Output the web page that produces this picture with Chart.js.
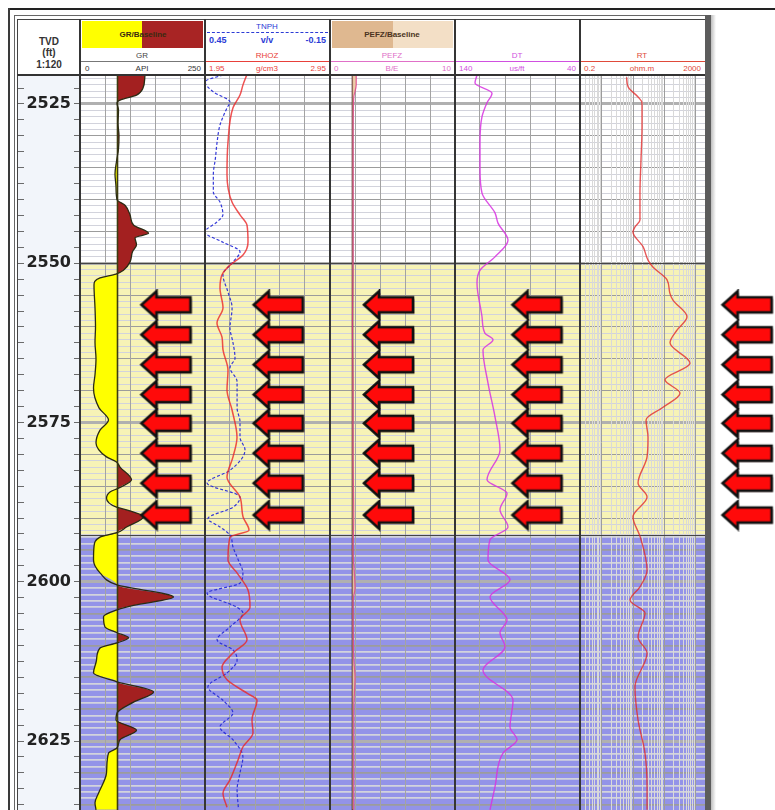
<!DOCTYPE html>
<html>
<head>
<meta charset="utf-8">
<title>Well log</title>
<script src="https://cdn.jsdelivr.net/npm/chart.js@4.4.1/dist/chart.umd.min.js"></script>
<style>
  html, body { margin: 0; padding: 0; background: #fff; }
  body { position: relative; width: 775px; height: 810px; overflow: hidden; font-family: "Liberation Sans", Arial, sans-serif; }
  .a { position: absolute; }
  .t { position: absolute; font-size: 8px; line-height: 9px; white-space: nowrap; color: #333; }
  .b { font-weight: bold; }
  .c { transform: translateX(-50%); }
  .r { transform: translateX(-100%); }
  canvas { position: absolute; top: 75px; }
  .sep { position: absolute; top: 19px; width: 2px; height: 791px; background: #353535; z-index: 3; }
</style>
</head>
<body>

<!-- frame -->
<div class="a" style="left:9px;top:8px;width:766px;height:2px;background:#222"></div>
<div class="a" style="left:8px;top:8px;width:2px;height:802px;background:#3a3a3a"></div>
<div class="a" style="left:14px;top:15px;width:692px;height:1px;background:#666"></div>
<div class="a" style="left:14px;top:15px;width:1px;height:795px;background:#666"></div>
<div class="a" style="left:17px;top:19px;width:689px;height:1px;background:#444"></div>
<div class="a" style="left:17px;top:19px;width:1px;height:791px;background:#444"></div>
<div class="a" style="left:18px;top:76px;width:62px;height:734px;background:#f2f5fa"></div>

<!-- depth header -->
<div class="t c b" style="left:49px;top:36px;font-size:10px;line-height:11px">TVD</div>
<div class="t c b" style="left:49px;top:47px;font-size:10px;line-height:11px">(ft)</div>
<div class="t c b" style="left:49px;top:59px;font-size:10px;line-height:11px">1:120</div>

<!-- GR header -->
<div class="a" style="left:82px;top:21px;width:60px;height:27px;background:#ffff00"></div>
<div class="a" style="left:142px;top:21px;width:61px;height:27px;background:#a82424"></div>
<div class="t c b" style="left:143px;top:30px;color:#3a2a10">GR/Baseline</div>
<div class="t c" style="left:142px;top:51px;color:#444">GR</div>
<div class="a" style="left:80px;top:61px;width:125px;height:1px;background:#777"></div>
<div class="t" style="left:85px;top:64px">0</div>
<div class="t c" style="left:142px;top:64px">API</div>
<div class="t r" style="left:201px;top:64px">250</div>

<!-- TNPH / RHOZ header -->
<div class="t c" style="left:267px;top:22px;color:#2b3bd6">TNPH</div>
<div class="a" style="left:207px;top:32px;width:121px;border-top:1.5px dashed #2b3bd6"></div>
<div class="t b" style="left:209px;top:36px;color:#2b3bd6;font-size:9px">0.45</div>
<div class="t c b" style="left:267px;top:36px;color:#2b3bd6;font-size:9px">v/v</div>
<div class="t r b" style="left:326px;top:36px;color:#2b3bd6;font-size:9px">-0.15</div>
<div class="t c" style="left:267px;top:51px;color:#e8403a">RHOZ</div>
<div class="a" style="left:205px;top:61px;width:125px;height:1px;background:#e8403a"></div>
<div class="t" style="left:209px;top:64px;color:#e8403a">1.95</div>
<div class="t c" style="left:267px;top:64px;color:#e8403a">g/cm3</div>
<div class="t r" style="left:326px;top:64px;color:#e8403a">2.95</div>

<!-- PEFZ header -->
<div class="a" style="left:332px;top:21px;width:61px;height:27px;background:#dfb890"></div>
<div class="a" style="left:393px;top:21px;width:60px;height:27px;background:#f3dfc6"></div>
<div class="t c b" style="left:392px;top:30px;color:#4a3320">PEFZ/Baseline</div>
<div class="t c" style="left:392px;top:51px;color:#e070c8">PEFZ</div>
<div class="a" style="left:330px;top:61px;width:125px;height:1px;background:#e070c8"></div>
<div class="t" style="left:334px;top:64px;color:#e070c8">0</div>
<div class="t c" style="left:392px;top:64px;color:#e070c8">B/E</div>
<div class="t r" style="left:451px;top:64px;color:#e070c8">10</div>

<!-- DT header -->
<div class="t c" style="left:517px;top:51px;color:#d050e0">DT</div>
<div class="a" style="left:455px;top:61px;width:125px;height:1px;background:#d050e0"></div>
<div class="t" style="left:459px;top:64px;color:#d050e0">140</div>
<div class="t c" style="left:517px;top:64px;color:#d050e0">us/ft</div>
<div class="t r" style="left:576px;top:64px;color:#d050e0">40</div>

<!-- RT header -->
<div class="t c" style="left:642px;top:51px;color:#e04a3a">RT</div>
<div class="a" style="left:580px;top:61px;width:125px;height:1px;background:#e04a3a"></div>
<div class="t" style="left:584px;top:64px;color:#e04a3a">0.2</div>
<div class="t c" style="left:642px;top:64px;color:#e04a3a">ohm.m</div>
<div class="t r" style="left:701px;top:64px;color:#e04a3a">2000</div>

<!-- charts -->
<canvas id="depth" width="62" height="735" style="left:18px"></canvas>
<canvas id="gr" width="125" height="735" style="left:80px"></canvas>
<canvas id="nd" width="125" height="735" style="left:205px"></canvas>
<canvas id="pe" width="125" height="735" style="left:330px"></canvas>
<canvas id="dt" width="125" height="735" style="left:455px"></canvas>
<canvas id="rt" width="125" height="735" style="left:580px"></canvas>
<canvas id="side" width="63" height="735" style="left:712px"></canvas>

<!-- track separators and right edge -->
<div class="a" style="left:17px;top:74px;width:689px;height:2px;background:#333;z-index:3"></div>
<div class="sep" style="left:79px"></div>
<div class="sep" style="left:204px"></div>
<div class="sep" style="left:329px"></div>
<div class="sep" style="left:454px"></div>
<div class="sep" style="left:579px"></div>
<div class="a" style="left:705px;top:15px;width:6px;height:795px;background:#5c5c5c;z-index:3"></div>
<div class="a" style="left:711px;top:15px;width:5px;height:795px;background:linear-gradient(90deg,#bdbdbd,#ffffff);z-index:3"></div>

<script>
const DEPTH_MIN = 2520.45;
const DEPTH_MAX = 2635.83;
const DEPTH_LABELS = [2525, 2550, 2575, 2600, 2625];
const ZONE_TOP = [2520.45, 2550, 2592.6];
const ZONE_BASE = [2550, 2592.6, 2635.83];

const GR_TICKS = [0, 50, 100, 150, 200, 250];
const RHOZ_TICKS = [1.95, 2.15, 2.35, 2.55, 2.75, 2.95];
const PEFZ_TICKS = [0, 2, 4, 6, 8, 10];
const DT_TICKS = [40, 60, 80, 100, 120, 140];
const RT_TICKS = [0.2, 0.3, 0.4, 0.5, 0.6, 0.7, 0.8, 0.9, 1, 2, 3, 4, 5, 6, 7, 8, 9,
  10, 20, 30, 40, 50, 60, 70, 80, 90, 100, 200, 300, 400, 500, 600, 700, 800, 900, 1000, 2000];
const RT_DECADES = [1, 10, 100, 1000];

const GR_BASELINE = 75;
const GR_DEPTH = [2520.5, 2522.5, 2523.6, 2524.4, 2524.8, 2526, 2528, 2530, 2532, 2534, 2536, 2538, 2540,
  2540.9, 2542.4, 2544, 2545.3, 2546, 2547.1, 2548.2, 2549.8, 2551.1, 2551.7, 2552.3, 2553.4, 2557, 2560,
  2562.4, 2565, 2567.5, 2569.6, 2572.7, 2574.6, 2576.2, 2578.2, 2580.4, 2581.2, 2582, 2584, 2585.3, 2585.9,
  2586.9, 2588.3, 2588.7, 2589.8, 2591.4, 2592.3, 2593, 2594.5, 2596.6, 2598.6, 2600.5, 2602.4, 2603.7,
  2604.4, 2605.5, 2607.1, 2608, 2608.8, 2609.6, 2610.4, 2612.3, 2614.3, 2615.7, 2617.3, 2618.9, 2620.6,
  2621.7, 2623.3, 2624.8, 2626.1, 2626.9, 2630, 2633.2, 2634.7, 2635.8];
const GR_API = [130, 126, 113, 80, 74, 77, 76, 78, 77, 73, 70, 72, 74,
  90, 100, 107, 137, 110, 113, 105, 100, 87, 72, 40, 28, 30, 31,
  30, 32, 30, 27, 38, 57, 40, 32, 53, 73, 80, 103, 77, 60,
  53, 73, 93, 127, 93, 74, 40, 28, 27, 40, 74, 187, 107,
  74, 47, 50, 74, 97, 74, 40, 33, 27, 74, 147, 107, 74,
  72, 113, 80, 74, 57, 53, 37, 30, 32];

const TNPH_DEPTH = [2520.45, 2521.5, 2523.1, 2524.7, 2525.6, 2528.3, 2531.0, 2533.5, 2536.1, 2538.8, 2540.4,
  2542.4, 2543.5, 2545.1, 2546.7, 2548.2, 2549.8, 2551.8, 2554.5, 2557.0, 2560.2, 2562.4, 2564.9, 2566.4,
  2568.6, 2572.7, 2574.9, 2577.3, 2579.3, 2582.5, 2584.5, 2586.7, 2588.3, 2590.1, 2591.4, 2592.7, 2594.5,
  2596.6, 2598.6, 2600.2, 2601.8, 2604.0, 2604.9, 2607.1, 2609.1, 2610.7, 2612.3, 2614.3, 2616.5, 2618.6,
  2620.6, 2622.8, 2624.8, 2627.5, 2630.0, 2632.7, 2635.4];
const TNPH_VV = [0.364, 0.45, 0.41, 0.33, 0.344, 0.378, 0.392, 0.40, 0.41, 0.41, 0.378,
  0.364, 0.392, 0.45, 0.364, 0.282, 0.316, 0.364, 0.34, 0.32, 0.33, 0.316, 0.306, 0.33,
  0.296, 0.296, 0.282, 0.282, 0.258, 0.33, 0.44, 0.282, 0.316, 0.436, 0.378, 0.33, 0.316,
  0.29, 0.268, 0.282, 0.44, 0.296, 0.268, 0.33, 0.392, 0.316, 0.296, 0.344, 0.436, 0.364,
  0.316, 0.378, 0.316, 0.268, 0.282, 0.296, 0.29];

const RHOZ_DEPTH = [2520.45, 2522.0, 2523.6, 2525.6, 2531.0, 2536.1, 2540.4, 2542.4, 2544.0, 2546.7, 2548.7,
  2550.3, 2551.8, 2553.9, 2557.0, 2559.4, 2561.6, 2563.6, 2566.8, 2569.9, 2573.0, 2577.3, 2580.4, 2583.6,
  2586.7, 2589.8, 2591.9, 2593.0, 2596.6, 2598.6, 2601.3, 2604.0, 2606.0, 2609.1, 2611.2, 2613.4, 2615.4,
  2617.5, 2618.6, 2621.7, 2623.7, 2625.9, 2628.0, 2631.1, 2633.2, 2635.4];
const RHOZ_G = [2.284, 2.254, 2.23, 2.174, 2.134, 2.126, 2.166, 2.23, 2.286, 2.294, 2.254,
  2.15, 2.086, 2.07, 2.094, 2.046, 2.086, 2.094, 2.134, 2.126, 2.166, 2.206, 2.174, 2.126,
  2.23, 2.254, 2.302, 2.15, 2.134, 2.206, 2.294, 2.31, 2.23, 2.286, 2.174, 2.086, 2.126,
  2.286, 2.366, 2.326, 2.334, 2.254, 2.214, 2.15, 2.094, 2.126];

const PEFZ_BASELINE = 1.8;
const PEFZ_DEPTH = [2520.45, 2522, 2524, 2530, 2540, 2550, 2560, 2570, 2580, 2590, 2595, 2601, 2603, 2612, 2615, 2620, 2630, 2635.8];
const PEFZ_BE = [2.1, 2.1, 1.9, 1.85, 1.85, 1.85, 1.8, 1.85, 1.85, 1.9, 1.85, 2.0, 1.85, 1.9, 2.0, 1.9, 1.9, 1.9];

const DT_DEPTH = [2520.45, 2521.7, 2523.3, 2524.8, 2527.0, 2531.1, 2535.0, 2539.0, 2542.1, 2543.7, 2546.4,
  2549.0, 2551.1, 2553.1, 2558.4, 2561.0, 2562.0, 2563.6, 2568.8, 2574.1, 2579.3, 2584.0, 2586.1, 2588.7,
  2591.4, 2593.4, 2596.6, 2599.7, 2602.4, 2606.0, 2608.0, 2610.2, 2613.9, 2618.6, 2622.8, 2624.8, 2626.9,
  2632.2, 2635.8];
const DT_US = [122.4, 124, 110.4, 114.4, 118.4, 120, 120, 118.4, 108, 105.6, 97.6,
  108, 120, 122.4, 118.4, 116, 109.6, 117.6, 113.6, 108, 104, 114.4, 98.4, 104,
  97.6, 112, 113.6, 96, 112, 98.4, 104, 100, 117.6, 93.6, 96, 90.4, 101.6,
  108, 112];

const RT_DEPTH = [2520.8, 2522.3, 2523.9, 2524.8, 2528.6, 2533.8, 2539.0, 2543.2, 2544.3, 2545.1, 2547.4,
  2549.5, 2550.6, 2552.6, 2554.7, 2555.8, 2558.4, 2560.5, 2562.5, 2565.7, 2568.3, 2570.4, 2572.6, 2574.6,
  2577.3, 2580.4, 2584.5, 2586.7, 2589.8, 2593.0, 2598.2, 2600.8, 2602.9, 2604.9, 2608.7, 2611.2, 2616.5,
  2621.7, 2626.9, 2632.2, 2635.8];
const RT_OHMM = [6.2, 6.9, 14.4, 19.3, 19.3, 17.9, 16.6, 16.6, 11.5, 9.9, 20.8,
  30, 43, 122, 150, 189, 531, 254, 152, 662, 105, 317, 91, 26,
  30, 28, 14.4, 28, 9.9, 17, 28, 16.6, 8, 24, 14.4, 28, 11.5,
  14.4, 24, 28, 28];

// arrow markers: depth of each row, and where they sit in each track's units
const ARROW_DEPTH = [2556.6, 2561.3, 2566.0, 2570.7, 2575.2, 2579.9, 2584.6, 2589.6];
const ARROW_GR = 173;
const ARROW_RHOZ = 2.54;
const ARROW_PEFZ = 4.72;
const ARROW_DT = 74;
const ARROW_SIDE = 0.565;

const ZONE_FILL = ['#ffffff', '#f7f3b6', '#9393e8'];

function makeArrow() {
  const c = document.createElement('canvas');
  c.width = 56;
  c.height = 32;
  const g = c.getContext('2d');
  const path = () => {
    g.beginPath();
    g.moveTo(3, 15.5);
    g.lineTo(18, 2);
    g.lineTo(18, 8);
    g.lineTo(52, 8);
    g.lineTo(52, 23);
    g.lineTo(18, 23);
    g.lineTo(18, 29);
    g.closePath();
  };
  g.save();
  g.translate(1.5, 1.5);
  path();
  g.fillStyle = 'rgba(50,0,0,0.5)';
  g.fill();
  g.restore();
  path();
  g.fillStyle = '#ff0a0a';
  g.fill();
  g.lineWidth = 2.6;
  g.strokeStyle = '#111';
  g.stroke();
  return c;
}
const ARROW_IMG = makeArrow();

const zonePlugin = {
  id: 'zones',
  beforeDraw(chart) {
    const { ctx, chartArea: a } = chart;
    const y = chart.scales.y;
    ctx.save();
    ZONE_TOP.forEach((top, i) => {
      const y0 = y.getPixelForValue(top);
      const y1 = y.getPixelForValue(ZONE_BASE[i]);
      ctx.fillStyle = ZONE_FILL[i];
      ctx.fillRect(a.left, y0, a.width, y1 - y0);
    });
    ctx.restore();
  },
  beforeDatasetsDraw(chart) {
    const { ctx, chartArea: a } = chart;
    const y = chart.scales.y;
    ctx.save();
    ctx.strokeStyle = '#454545';
    ctx.lineWidth = 1.2;
    ZONE_TOP.slice(1).forEach(top => {
      const py = Math.round(y.getPixelForValue(top)) + 0.5;
      ctx.beginPath();
      ctx.moveTo(a.left, py);
      ctx.lineTo(a.right, py);
      ctx.stroke();
    });
    ctx.restore();
  }
};

function depthGridColor(c) {
  const v = c.tick.value;
  if (v % 25 === 0) return '#b0b0b0';
  if (v % 5 === 0) return '#9c9c9c';
  return '#d2d3dc';
}
function depthGridWidth(c) {
  const v = c.tick.value;
  if (v % 25 === 0) return 3;
  if (v > ZONE_TOP[2]) return 1.8;
  return 1;
}

function depthScale(extra) {
  return Object.assign({
    type: 'linear', reverse: true, min: DEPTH_MIN, max: DEPTH_MAX, position: 'left',
    ticks: { display: false, stepSize: 1, includeBounds: false },
    grid: { drawTicks: false, color: depthGridColor, lineWidth: depthGridWidth },
    border: { display: false }
  }, extra);
}

function valueScale(min, max, ticks, extra) {
  return Object.assign({
    type: 'linear', min, max, position: 'bottom',
    afterBuildTicks: s => { s.ticks = ticks.map(v => ({ value: v })); },
    ticks: { display: false },
    grid: { drawTicks: false, color: '#a3a3a3', lineWidth: 1 },
    border: { display: false }
  }, extra);
}

function curve(depths, values, color, extra) {
  return Object.assign({
    data: depths.map((d, i) => ({ x: values[i], y: d })),
    borderColor: color,
    borderWidth: 1.3,
    pointRadius: 0,
    pointHitRadius: 0,
    fill: false,
    cubicInterpolationMode: 'monotone',
    order: 1
  }, extra);
}

function arrows(xv, extra) {
  return Object.assign({
    data: ARROW_DEPTH.map(d => ({ x: xv, y: d })),
    showLine: false,
    pointStyle: ARROW_IMG,
    pointRadius: 6,
    clip: false,
    order: 0
  }, extra);
}

function baseOptions(scales) {
  return {
    indexAxis: 'y',
    responsive: false,
    animation: false,
    events: [],
    layout: { padding: 0, autoPadding: false },
    plugins: { legend: { display: false }, tooltip: { enabled: false } },
    scales
  };
}

function track(id, xScales, datasets) {
  return new Chart(document.getElementById(id), {
    type: 'line',
    data: { datasets },
    options: baseOptions(Object.assign({ y: depthScale() }, xScales)),
    plugins: [zonePlugin]
  });
}

// depth column
new Chart(document.getElementById('depth'), {
  type: 'line',
  data: { datasets: [] },
  options: {
    responsive: false,
    animation: false,
    events: [],
    layout: { padding: 0, autoPadding: false },
    plugins: { legend: { display: false }, tooltip: { enabled: false } },
    scales: {
      x: { type: 'linear', display: false },
      yo: {
        type: 'linear', position: 'left', weight: 1, reverse: true, min: DEPTH_MIN, max: DEPTH_MAX,
        ticks: { display: false, stepSize: 2.5, includeBounds: false },
        grid: { drawOnChartArea: false, drawTicks: true, tickLength: 6, color: '#6b6b6b' },
        border: { display: false }
      },
      y: {
        type: 'linear', position: 'left', weight: 0, reverse: true, min: DEPTH_MIN, max: DEPTH_MAX,
        afterFit: s => { s.width = 50; s.paddingTop = 0; s.paddingBottom = 0; },
        ticks: {
          stepSize: 2.5, includeBounds: false, autoSkip: false, padding: 3, color: '#222',
          font: { family: 'DejaVu Sans', size: 16, weight: 'bold' },
          callback: v => DEPTH_LABELS.includes(v) ? String(v) : ''
        },
        grid: { drawTicks: false, color: '#6b6b6b' },
        border: { display: false }
      }
    }
  }
});

track('gr', { x: valueScale(0, 250, GR_TICKS) }, [
  arrows(ARROW_GR),
  curve(GR_DEPTH, GR_API, '#2b2b14', { borderWidth: 1.3, order: 1 }),
  curve([DEPTH_MIN, DEPTH_MAX], [GR_BASELINE, GR_BASELINE], '#3c3c10', { borderWidth: 1.6, order: 2 }),
  curve(GR_DEPTH, GR_API.map(v => Math.max(v, GR_BASELINE)), 'rgba(0,0,0,0)',
    { fill: { value: GR_BASELINE }, backgroundColor: '#a32020', borderWidth: 0, order: 3 }),
  curve(GR_DEPTH, GR_API.map(v => Math.min(v, GR_BASELINE)), 'rgba(0,0,0,0)',
    { fill: { value: GR_BASELINE }, backgroundColor: '#ffff00', borderWidth: 0, order: 3 })
]);

track('nd', {
  x: valueScale(1.95, 2.95, RHOZ_TICKS),
  xn: { type: 'linear', min: -0.15, max: 0.45, reverse: true, display: false }
}, [
  arrows(ARROW_RHOZ),
  curve(RHOZ_DEPTH, RHOZ_G, 'rgba(235,35,35,0.78)', { borderWidth: 1.5 }),
  curve(TNPH_DEPTH, TNPH_VV, 'rgba(40,45,215,0.95)', { xAxisID: 'xn', borderDash: [3, 2], borderWidth: 1.2 })
]);

track('pe', { x: valueScale(0, 10, PEFZ_TICKS) }, [
  arrows(ARROW_PEFZ),
  curve(PEFZ_DEPTH, PEFZ_BE, 'rgba(225,70,140,0.85)',
    { fill: { value: PEFZ_BASELINE }, backgroundColor: 'rgba(236,200,160,0.9)', borderWidth: 1.2 }),
  curve([DEPTH_MIN, DEPTH_MAX], [PEFZ_BASELINE, PEFZ_BASELINE], '#4a1f1f', { borderWidth: 1.6, order: 2 })
]);

track('dt', { x: valueScale(40, 140, DT_TICKS, { reverse: true }) }, [
  arrows(ARROW_DT),
  curve(DT_DEPTH, DT_US, 'rgba(215,50,225,0.85)', { borderWidth: 1.4 })
]);

track('rt', {
  x: {
    type: 'logarithmic', min: 0.2, max: 2000, position: 'bottom',
    afterBuildTicks: s => { s.ticks = RT_TICKS.map(v => ({ value: v })); },
    ticks: { display: false },
    grid: { drawTicks: false, color: c => RT_DECADES.includes(c.tick.value) ? '#9c9c9c' : '#d9d9d9' },
    border: { display: false }
  }
}, [
  curve(RT_DEPTH, RT_OHMM, 'rgba(225,40,40,0.78)', { borderWidth: 1.4 })
]);

// arrows outside the tracks
new Chart(document.getElementById('side'), {
  type: 'line',
  data: { datasets: [arrows(ARROW_SIDE)] },
  options: baseOptions({
    x: { type: 'linear', min: 0, max: 1, display: false },
    y: depthScale({ display: false })
  })
});
</script>
</body>
</html>
